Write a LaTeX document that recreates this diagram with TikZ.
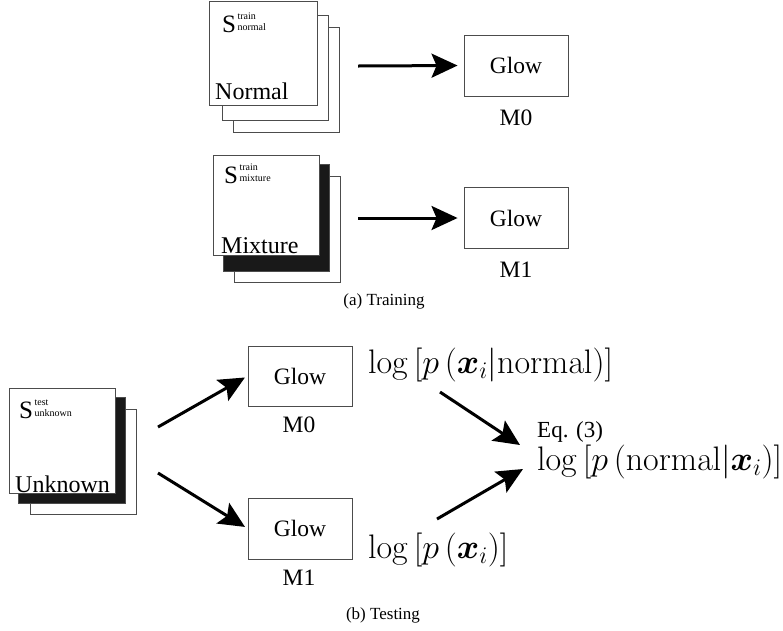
\RequirePackage{fix-cm}
\documentclass[tikz,border=0pt]{standalone}
\usepackage[no-math]{fontspec}
\setmainfont{Liberation Serif}
\usepackage{amsmath,bm}
\usetikzlibrary{arrows.meta}
\begin{document}
\begin{tikzpicture}[x=1pt,y=-1pt,
  sheet/.style={draw=black!70, line width=0.9pt, fill=white, inner sep=0pt, anchor=north west},
  darksheet/.style={sheet, fill=black!90},
  glowbox/.style={draw=black!70, line width=0.9pt, fill=white, minimum width=104pt, minimum height=61pt, inner sep=0pt, font=\fontsize{23.5}{28}\selectfont},
  lbl/.style={font=\fontsize{23.5}{28}\selectfont, inner sep=0pt},
  bigtxt/.style={font=\fontsize{24}{28}\selectfont, inner sep=0pt, anchor=base west},
  captxt/.style={font=\fontsize{17}{20}\selectfont, inner sep=0pt},
  mathtxt/.style={font=\fontsize{34}{40}\selectfont, inner sep=0pt, anchor=west},
  arr/.style={line width=3pt, -{Stealth[length=26pt,width=24pt,inset=5pt]}},
]
\useasboundingbox (0,0) rectangle (783,630);
\newcommand{\setlbl}[2]{{\fontsize{25}{25}\selectfont S}\hspace{1.5pt}\raisebox{1.5pt}{\fontsize{10}{11}\selectfont\begin{tabular}[b]{@{}l@{}}#1\\#2\end{tabular}}}

% ---------- (a) Training: normal stack
\node[sheet, minimum width=106pt, minimum height=105pt] (n3) at (233,27) {};
\node[sheet, minimum width=106pt, minimum height=105pt] (n2) at (222,15) {};
\node[sheet, minimum width=108pt, minimum height=104pt] (n1) at (209,1) {};
\node[inner sep=0pt, anchor=base west] (nS) at (222,32) {\setlbl{train}{normal}};
\node[bigtxt] (nT) at (215,99) {Normal};

% ---------- (a) Training: mixture stack
\node[sheet, minimum width=106pt, minimum height=106pt] (m3) at (234,176) {};
\node[darksheet, minimum width=106pt, minimum height=107pt] (m2) at (223,164) {};
\node[sheet, minimum width=106pt, minimum height=100pt] (m1) at (213,155) {};
\node[inner sep=0pt, anchor=base west] (mS) at (224,183) {\setlbl{train}{mixture}};
\node[bigtxt] (mT) at (221,253) {Mixture};

% ---------- Glow boxes (training)
\node[glowbox] (g0) at (516,65.5) {Glow};
\node[lbl] (g0l) at (516,118) {M0};
\node[glowbox] (g1) at (516,218) {Glow};
\node[lbl] (g1l) at (516,270) {M1};

\coordinate (a0s) at (358,66);
\coordinate (a1s) at (358,218);
\draw[arr, shorten >=6pt] (a0s) -- (g0.west);
\draw[arr, shorten >=6pt] (a1s) -- (g1.west);

\node[captxt] (capa) at (384,301) {(a) Training};

% ---------- (b) Testing: unknown stack
\node[sheet, minimum width=106pt, minimum height=105pt] (u3) at (30,409) {};
\node[darksheet, minimum width=107pt, minimum height=106pt] (u2) at (18,397) {};
\node[sheet, minimum width=106pt, minimum height=105pt] (u1) at (9,388) {};
\node[inner sep=0pt, anchor=base west] (uS) at (19,418) {\setlbl{test}{unknown}};
\node[bigtxt] (uT) at (15,492) {Unknown};

% ---------- Glow boxes (testing)
\node[glowbox, minimum height=60pt] (t0) at (300,376) {Glow};
\node[lbl] (t0l) at (299,425) {M0};
\node[glowbox] (t1) at (300,528.5) {Glow};
\node[lbl] (t1l) at (299,578) {M1};

\coordinate (b0s) at (158,427);
\coordinate (b1s) at (158,473);
\draw[arr, shorten >=3pt] (b0s) -- (t0.west);
\draw[arr, shorten >=3pt] (b1s) -- (t1.west);

% ---------- formulas
\node[mathtxt] (f1) at (368,365) {$\log\left[p\left(\bm{x}_i|\mathrm{normal}\right)\right]$};
\node[mathtxt] (f3) at (368,550) {$\log\left[p\left(\bm{x}_i\right)\right]$};
\node[mathtxt] (f2) at (537,462) {$\log\left[p\left(\mathrm{normal}|\bm{x}_i\right)\right]$};
\node[font=\fontsize{23}{28}\selectfont, inner sep=0pt, anchor=west] (eq) at (537,432) {Eq. (3)};

\coordinate (c1s) at (440,392);
\coordinate (c1e) at (520,445);
\coordinate (c2s) at (437,519);
\coordinate (c2e) at (523,469);
\draw[arr] (c1s) -- (c1e);
\draw[arr] (c2s) -- (c2e);

\node[captxt] (capb) at (383,615) {(b) Testing};
\end{tikzpicture}
\end{document}
